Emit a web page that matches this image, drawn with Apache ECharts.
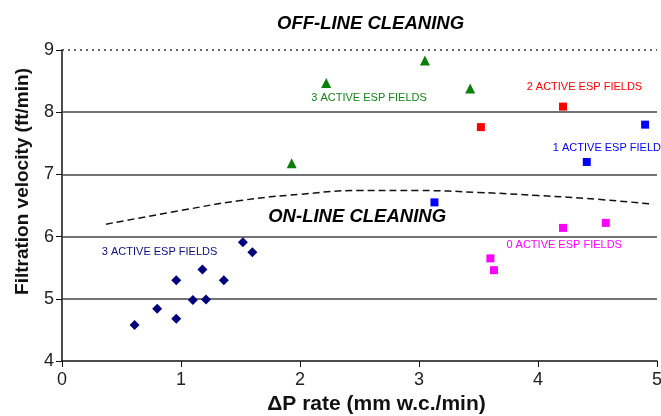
<!DOCTYPE html>
<html style="height: 100%">
<head>
<meta charset="utf-8">
<script src="https://cdn.jsdelivr.net/npm/echarts@6/dist/echarts.min.js"></script>
</head>
<body style="height: 100%; margin: 0; background: #fff">
<div id="container" style="width: 661px; height: 416px"></div>
<script type="text/javascript">
// on-line cleaning, 3 active ESP fields
var onLine3 = [[0.61, 4.58], [0.80, 4.84], [0.96, 4.68], [0.96, 5.30], [1.10, 4.98],
               [1.21, 4.99], [1.18, 5.47], [1.36, 5.30], [1.52, 5.91], [1.60, 5.75]];
// off-line cleaning, 3 active ESP fields
var offLine3 = [[1.93, 7.18], [2.22, 8.47], [3.05, 8.83], [3.43, 8.38]];
var offLine2 = [[3.52, 7.76], [4.21, 8.09]];
var offLine1 = [[3.13, 6.55], [4.41, 7.20], [4.90, 7.80]];
var offLine0 = [[3.60, 5.65], [3.63, 5.46], [4.21, 6.14], [4.57, 6.22]];
// dashed boundary between on-line / off-line regions
var boundary = [[0.37, 6.20], [1.0, 6.42], [1.5, 6.58], [2.0, 6.68], [2.5, 6.74],
                [3.0, 6.74], [3.5, 6.71], [4.0, 6.66], [4.5, 6.60], [4.97, 6.52]];
var gridValues = [5, 6, 7, 8];
var topLine = 9;
// annotations: [x, y, text, colour]
var notes = [
    [2.58, 8.23, '3 ACTIVE ESP FIELDS', '#13851a'],
    [4.39, 8.41, '2 ACTIVE ESP FIELDS', '#ff0000'],
    [4.61, 7.43, '1 ACTIVE ESP FIELDS', '#0000ff'],
    [4.22, 5.86, '0 ACTIVE ESP FIELDS', '#ff00ff'],
    [0.82, 5.75, '3 ACTIVE ESP FIELDS', '#0d0d80']
];
var onLineLabel = [2.48, 6.31, 'ON-LINE CLEANING'];

var myChart = echarts.init(document.getElementById('container'));

var series = [
    {
        type: 'line',
        data: boundary,
        smooth: true,
        symbol: 'none',
        lineStyle: { color: '#111', width: 1.5, type: [7, 4] },
        z: 2,
        markLine: {
            silent: true,
            symbol: 'none',
            label: { show: false },
            animation: false,
            data: gridValues.map(function (v) {
                return { yAxis: v, lineStyle: { color: '#444', width: 1.5, type: 'solid' } };
            }).concat([{ yAxis: topLine, lineStyle: { color: '#333', width: 1.5, type: [2, 4] } }])
        }
    },
    { type: 'scatter', data: onLine3, symbol: 'diamond', symbolSize: 10, itemStyle: { color: '#00007a', opacity: 1 }, z: 5 },
    { type: 'scatter', data: offLine3, symbol: 'triangle', symbolSize: 10, itemStyle: { color: '#0a800a', opacity: 1 }, z: 5 },
    { type: 'scatter', data: offLine2, symbol: 'rect', symbolSize: 8, itemStyle: { color: '#ff0000', opacity: 1 }, z: 5 },
    { type: 'scatter', data: offLine1, symbol: 'rect', symbolSize: 8, itemStyle: { color: '#0000ff', opacity: 1 }, z: 5 },
    { type: 'scatter', data: offLine0, symbol: 'rect', symbolSize: 8, itemStyle: { color: '#ff00ff', opacity: 1 }, z: 5 }
];

notes.forEach(function (n) {
    series.push({
        type: 'scatter',
        clip: false,
        symbolSize: 0,
        data: [[n[0], n[1]]],
        itemStyle: { opacity: 1 },
        label: {
            show: true, position: 'inside', formatter: n[2],
            color: n[3], fontSize: 11, fontFamily: 'Liberation Sans'
        },
        z: 6
    });
});
series.push({
    type: 'scatter',
    clip: false,
    symbolSize: 0,
    data: [[onLineLabel[0], onLineLabel[1]]],
    itemStyle: { opacity: 1 },
    label: {
        show: true, position: 'inside', formatter: onLineLabel[2],
        color: '#000', fontSize: 18.5, fontWeight: 'bold', fontStyle: 'italic',
        fontFamily: 'Liberation Sans'
    },
    z: 6
});

option = {
    animation: false,
    title: {
        text: 'OFF-LINE CLEANING',
        left: 272,
        top: 9,
        textStyle: { fontSize: 18.5, fontWeight: 'bold', fontStyle: 'italic', color: '#000', fontFamily: 'Liberation Sans' }
    },
    grid: { left: 62, right: 4, top: 50, bottom: 55, containLabel: false, outerBoundsMode: 'none' },
    xAxis: {
        type: 'value', min: 0, max: 5, interval: 1,
        name: 'ΔP rate (mm w.c./min)', nameLocation: 'middle', nameGap: 32,
        nameTextStyle: { fontSize: 21, fontWeight: 'bold', color: '#111', fontFamily: 'Liberation Sans', padding: [0, 0, 0, 34] },
        axisLine: { lineStyle: { color: '#111', width: 1.5 } },
        axisTick: { show: true, length: 6, lineStyle: { color: '#111' } },
        axisLabel: { fontSize: 18, color: '#222', margin: 10, fontFamily: 'Liberation Sans' },
        splitLine: { show: false }
    },
    yAxis: {
        type: 'value', min: 4, max: 9, interval: 1,
        name: 'Filtration velocity (ft/min)', nameLocation: 'middle', nameGap: 30,
        nameTextStyle: { fontSize: 19, fontWeight: 'bold', color: '#111', fontFamily: 'Liberation Sans', padding: [0, 0, 0, 48] },
        axisLine: { show: true, lineStyle: { color: '#111', width: 1.5 } },
        axisTick: { show: true, length: 6, lineStyle: { color: '#111' } },
        axisLabel: { fontSize: 18, color: '#222', margin: 8, fontFamily: 'Liberation Sans' },
        splitLine: { show: false }
    },
    series: series
};
myChart.setOption(option);
</script>
</body>
</html>
